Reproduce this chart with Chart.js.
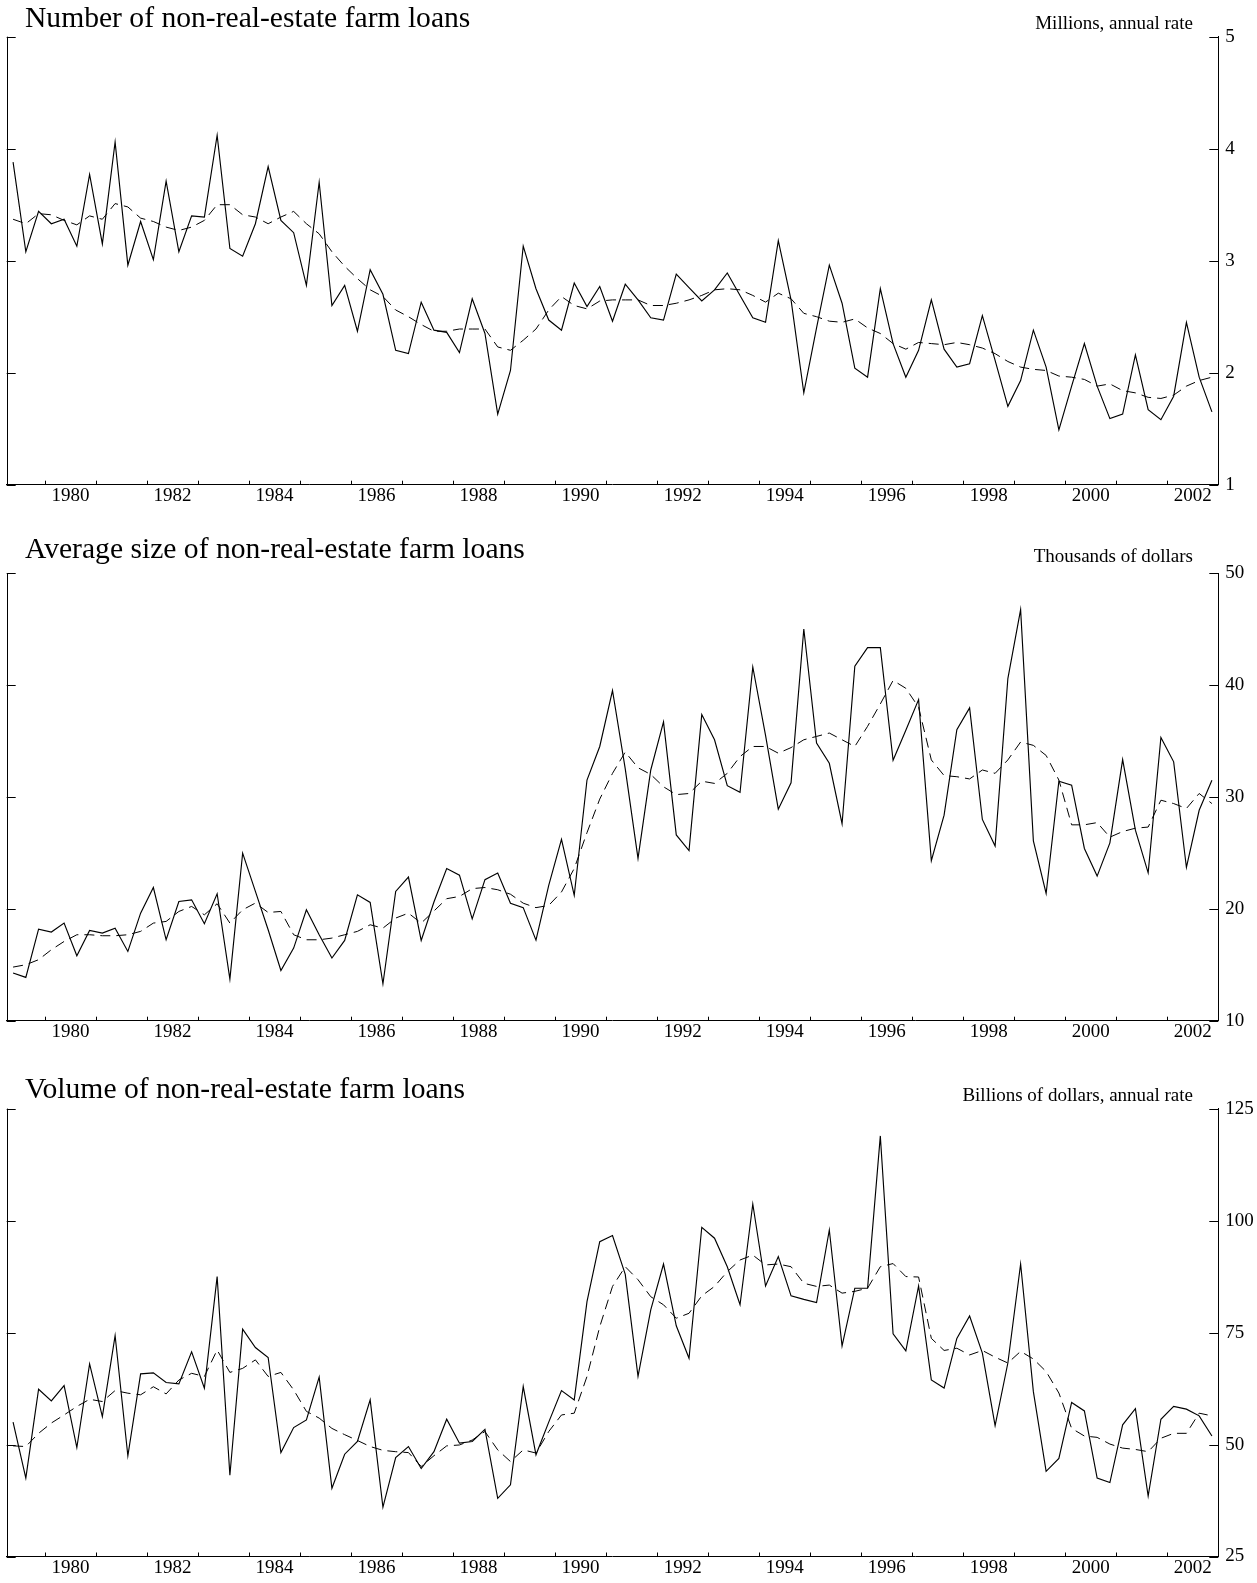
<!DOCTYPE html>
<html>
<head>
<meta charset="utf-8">
<script src="https://cdn.jsdelivr.net/npm/chart.js@4.4.1/dist/chart.umd.min.js"></script>
<style>
  html, body { margin: 0; padding: 0; background: #fff; width: 1257px; height: 1583px; overflow: hidden; }
  canvas { position: absolute; left: 0; }
  .title { position: absolute; left: 25px; font-family: "Liberation Serif", "Times New Roman", serif; font-size: 29.6px; line-height: 1; color: #000; white-space: nowrap; }
  .units { position: absolute; right: 64px; font-family: "Liberation Serif", "Times New Roman", serif; font-size: 19px; line-height: 1; color: #000; white-space: nowrap; }
</style>
</head>
<body>
<canvas id="c1" width="1257" height="520" style="top:0px"></canvas>
<canvas id="c2" width="1257" height="525" style="top:530px"></canvas>
<canvas id="c3" width="1257" height="518" style="top:1065px"></canvas>
<div class="title" style="top:3px">Number of non-real-estate farm loans</div>
<div class="units" style="top:13px">Millions, annual rate</div>
<div class="title" style="top:534px">Average size of non-real-estate farm loans</div>
<div class="units" style="top:546px">Thousands of dollars</div>
<div class="title" style="top:1074px">Volume of non-real-estate farm loans</div>
<div class="units" style="top:1085px">Billions of dollars, annual rate</div>
<script>
// ---------------- DATA ----------------
const firstYear = 1979;
const firstQuarter = 2;      // series start in 1979 Q2
const quarterCount = 95;     // through 2002 Q4

const xTickYears  = [1980,1981,1982,1983,1984,1985,1986,1987,1988,1989,1990,1991,1992,1993,1994,1995,1996,1997,1998,1999,2000,2001,2002];
const xLabelYears = [1980,1982,1984,1986,1988,1990,1992,1994,1996,1998,2000,2002];

const numberTicks = [1,2,3,4,5];
const sizeTicks   = [10,20,30,40,50];
const volumeTicks = [25,50,75,100,125];

// Number of non-real-estate farm loans, millions, annual rate
const numberLoans = [
 3.88,3.08,3.44,3.33, 3.37,3.13,3.77,3.15, 4.06,2.96,3.35,3.01, 3.71,3.08,3.40,3.39,
 4.12,3.11,3.04,3.33, 3.84,3.36,3.25,2.78, 3.70,2.60,2.78,2.37, 2.92,2.70,2.20,2.17,
 2.63,2.38,2.36,2.18, 2.66,2.35,1.63,2.02, 3.13,2.75,2.47,2.38, 2.80,2.59,2.77,2.46,
 2.79,2.65,2.49,2.47, 2.88,2.76,2.64,2.74, 2.89,2.69,2.49,2.45, 3.18,2.65,1.82,2.40,
 2.96,2.62,2.04,1.96, 2.75,2.26,1.96,2.20, 2.65,2.21,2.05,2.08, 2.51,2.11,1.70,1.93,
 2.38,2.05,1.49,1.88, 2.26,1.88,1.59,1.63, 2.16,1.67,1.58,1.79, 2.45,1.96,1.65
];
const numberLoansAvg = [
 3.37,3.33,3.42,3.41, 3.36,3.32,3.40,3.37, 3.51,3.48,3.38,3.35, 3.30,3.27,3.30,3.36,
 3.50,3.50,3.41,3.39, 3.33,3.39,3.44,3.33, 3.24,3.08,2.95,2.84, 2.74,2.68,2.56,2.50,
 2.43,2.37,2.37,2.39, 2.39,2.39,2.23,2.20, 2.29,2.39,2.56,2.68, 2.60,2.57,2.64,2.65,
 2.65,2.65,2.60,2.60, 2.62,2.65,2.69,2.74, 2.75,2.74,2.69,2.63, 2.71,2.66,2.53,2.50,
 2.46,2.45,2.48,2.40, 2.35,2.26,2.21,2.27, 2.26,2.25,2.27,2.25, 2.22,2.17,2.10,2.05,
 2.03,2.02,1.97,1.96, 1.94,1.88,1.90,1.84, 1.82,1.78,1.77,1.80, 1.88,1.93,1.96
];

// Average size of non-real-estate farm loans, thousands of dollars
const avgSize = [
 14.26,13.87,18.18,17.92, 18.72,15.80,18.07,17.83, 18.27,16.19,19.61,21.90, 17.23,20.65,20.80,18.66,
 21.34,13.72,24.97,21.55, 18.13,14.49,16.49,19.91, 17.68,15.60,17.17,21.25, 20.57,13.30,21.55,22.83,
 17.17,20.60,23.60,23.00, 19.10,22.60,23.20,20.50, 20.10,17.20,22.10,26.20, 21.20,31.50,34.50,39.50,
 32.50,24.50,32.40,36.70, 26.60,25.20,37.35,35.10, 31.00,30.40,41.60,35.50, 28.90,31.25,45.00,34.80,
 33.00,27.60,41.67,43.33, 43.33,33.27,35.95,38.69, 24.29,28.36,36.00,37.95, 27.98,25.60,40.57,46.73,
 26.07,21.37,31.40,31.04, 25.39,22.92,25.89,33.33, 27.02,23.21,35.30,33.13, 23.69,28.80,31.49
];
const avgSizeAvg = [
 14.79,15.00,15.45,16.34, 17.08,17.68,17.68,17.59, 17.59,17.68,17.98,18.72, 18.87,19.76,20.21,19.46,
 20.45,18.72,19.91,20.51, 19.67,19.76,17.68,17.23, 17.23,17.38,17.68,17.98, 18.57,18.27,19.17,19.61,
 18.72,19.80,20.90,21.10, 21.80,21.90,21.70,21.30, 20.50,20.10,20.30,21.50, 23.60,26.80,29.80,32.10,
 34.00,32.60,32.00,30.90, 30.20,30.30,31.40,31.20, 32.10,33.60,34.50,34.50, 33.90,34.40,35.10,35.40,
 35.70,35.10,34.50,36.30, 38.30,40.40,39.70,38.00, 33.30,31.90,31.80,31.60, 32.40,32.10,33.30,34.90,
 34.60,33.70,31.50,27.50, 27.50,27.70,26.40,26.90, 27.20,27.30,29.70,29.40, 28.96,30.30,29.40
];

// Volume of non-real-estate farm loans, billions of dollars, annual rate
const volume = [
 54.98,42.50,62.35,59.75, 63.17,49.33,68.00,56.25, 74.33,47.47,65.77,66.00, 63.84,63.54,70.68,62.57,
 87.50,43.15,75.74,71.65, 69.42,48.21,53.79,55.50, 65.03,40.25,47.84,50.67, 59.97,36.00,47.10,49.55,
 44.64,48.40,55.65,50.30, 50.67,53.40,38.00,41.00, 62.95,47.70,55.00,62.05, 59.97,81.90,95.30,96.65,
 88.00,65.20,80.06,90.30, 76.50,69.27,98.50,96.06, 89.70,81.20,103.70,85.40, 91.96,83.20,82.40,81.70,
 97.90,72.00,84.90,84.90, 118.90,74.70,70.90,85.40, 64.40,62.60,73.70,78.70, 70.40,54.20,68.20,90.30,
 61.80,44.00,46.90,59.40, 57.50,42.50,41.50,54.40, 58.00,38.50,55.65,58.50, 57.90,56.40,51.90
];
const volumeAvg = [
 49.70,49.55,52.50,54.80, 56.60,58.50,60.10,59.60, 62.05,61.46,61.10,62.90, 61.30,64.40,65.90,65.20,
 71.10,66.10,67.00,68.90, 65.20,66.10,62.20,57.40, 55.90,53.60,52.20,50.90, 49.55,48.70,48.40,48.20,
 45.10,47.50,49.70,49.90, 51.00,52.90,48.80,46.20, 48.80,48.10,52.90,56.60, 57.00,65.20,76.30,85.30,
 89.70,86.80,83.00,81.20, 78.20,79.30,83.20,85.30, 88.60,91.20,92.30,90.10, 90.30,89.70,86.00,85.30,
 85.60,83.80,84.20,84.90, 89.70,90.40,87.50,87.40, 73.70,71.00,71.50,70.00, 71.00,69.50,68.20,70.80,
 69.10,66.30,61.50,53.60, 51.90,51.60,50.10,49.20, 48.90,48.40,51.40,52.50, 52.50,57.00,56.40
];

// ---------------- BUILD ----------------
// position of each quarter = middle of the quarter on a year axis
const quarterPos = [];
for (let k = 0; k < quarterCount; k++) {
  const q = firstQuarter - 1 + k;
  quarterPos.push(firstYear + Math.floor(q / 4) + ((q % 4) + 0.5) / 4);
}
const toPoints = arr => arr.map((v, i) => ({ x: quarterPos[i], y: v }));

const SERIF = '"Liberation Serif", "Times New Roman", serif';

const innerTicks = {
  id: 'innerTicks',
  afterDraw(chart) {
    const { ctx, chartArea: a, scales: { x, y } } = chart;
    ctx.save();
    ctx.strokeStyle = '#000';
    ctx.lineWidth = 1;
    ctx.beginPath();
    const lx = Math.round(a.left) + 0.5;
    ctx.moveTo(lx, a.top); ctx.lineTo(lx, a.bottom);
    y.ticks.forEach(t => {
      const py = Math.round(y.getPixelForValue(t.value)) + 0.5;
      ctx.moveTo(a.left, py); ctx.lineTo(a.left + 9, py);
      ctx.moveTo(a.right, py); ctx.lineTo(a.right - 9, py);
    });
    xTickYears.forEach(yr => {
      const px = Math.round(x.getPixelForValue(yr)) + 0.5;
      ctx.moveTo(px, a.bottom); ctx.lineTo(px, a.bottom - 4);
    });
    ctx.stroke();
    ctx.restore();
  }
};

function makePanel(id, solid, dashed, yTicks, padTop, xAxisHeight) {
  new Chart(document.getElementById(id), {
    type: 'line',
    data: {
      datasets: [
        { data: toPoints(solid), borderColor: '#000', borderWidth: 1.15, pointRadius: 0, tension: 0, fill: false },
        { data: toPoints(dashed), borderColor: '#000', borderWidth: 1, borderDash: [10, 6], pointRadius: 0, tension: 0, fill: false }
      ]
    },
    options: {
      responsive: false,
      animation: false,
      devicePixelRatio: 1,
      layout: { padding: { top: padTop, left: 6.7, right: 0, bottom: 0 } },
      plugins: { legend: { display: false }, tooltip: { enabled: false }, title: { display: false } },
      scales: {
        x: {
          type: 'linear',
          min: 1979.25,
          max: 2003,
          grid: { display: false, drawTicks: false },
          border: { display: true, color: '#000', width: 1 },
          afterBuildTicks: s => { s.ticks = xLabelYears.map(v => ({ value: v + 0.5 })); },
          afterFit: s => { s.height = xAxisHeight; },
          ticks: {
            autoSkip: false, maxRotation: 0, padding: 0, color: '#000',
            font: { family: SERIF, size: 19 },
            callback: v => String(Math.floor(v))
          }
        },
        y: {
          position: 'right',
          min: yTicks[0],
          max: yTicks[yTicks.length - 1],
          grid: { display: false, drawTicks: false },
          border: { display: true, color: '#000', width: 1 },
          afterBuildTicks: s => { s.ticks = yTicks.map(v => ({ value: v })); },
          afterFit: s => { s.width = 38.7; },
          ticks: { padding: 7, color: '#000', font: { family: SERIF, size: 19 }, callback: v => String(v) }
        }
      }
    },
    plugins: [innerTicks]
  });
}

makePanel('c1', numberLoans, numberLoansAvg, numberTicks, 36.7, 35.3);
makePanel('c2', avgSize, avgSizeAvg, sizeTicks, 43, 34.3);
makePanel('c3', volume, volumeAvg, volumeTicks, 43.6, 26.5);
</script>
</body>
</html>
